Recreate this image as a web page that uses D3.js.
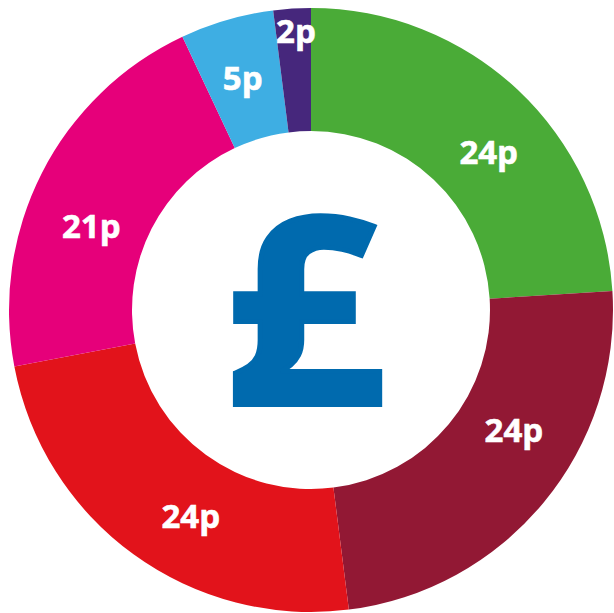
<!DOCTYPE html>
<html>
<head>
<meta charset="utf-8">
<script src="https://cdn.jsdelivr.net/npm/d3@7/dist/d3.min.js"></script>
<style>
  html, body { margin: 0; padding: 0; background: #fff; }
  svg { display: block; }
</style>
</head>
<body>
<svg id="chart" width="614" height="613"></svg>
<script>
// Data
const categories = ["A", "B", "C", "D", "E", "F"];
const values = [24, 24, 24, 21, 5, 2];
const labels = ["24p", "24p", "24p", "21p", "5p", "2p"];
const colors = ["#4aab37", "#921834", "#e2131b", "#e6007a", "#3eaee3", "#46277c"];

// Layout (label nudges, degrees / radius) — presentation only
const labelAngleNudge = [5.1, -8.9, -5.8, -6.2, -0.2, 0.5];
const labelRadius = [238, 236, 239, 235, 242, 279];

const W = 614, H = 613;
const cx = 311, cy = 310;
const rOuter = 302, rInner = 179;

const svg = d3.select("#chart");
const g = svg.append("g").attr("transform", `translate(${cx},${cy})`);

const pie = d3.pie().value(d => d.value).sort(null);
const data = categories.map((c, i) => ({ cat: c, value: values[i], label: labels[i], color: colors[i], i }));
const arcs = pie(data);

const arc = d3.arc().innerRadius(rInner).outerRadius(rOuter);

g.selectAll("path.slice")
  .data(arcs)
  .join("path")
  .attr("class", "slice")
  .attr("d", arc)
  .attr("fill", d => d.data.color);

// Labels
g.selectAll("text.lbl")
  .data(arcs)
  .join("text")
  .attr("class", "lbl")
  .attr("transform", d => {
    const a = (d.startAngle + d.endAngle) / 2 + labelAngleNudge[d.data.i] * Math.PI / 180;
    const r = labelRadius[d.data.i];
    return `translate(${r * Math.sin(a)},${-r * Math.cos(a)})`;
  })
  .attr("text-anchor", "middle")
  .attr("dy", "0.36em")
  .attr("fill", "#fff")
  .attr("stroke", "#fff")
  .attr("stroke-width", 0.6)
  .attr("font-family", "'Open Sans', sans-serif")
  .attr("font-weight", 700)
  .attr("font-size", 33)
  .text(d => d.data.label);

// Pound sign, fitted to target ink box
const sw = 5;
const target = { x0: 233 + sw / 2, x1: 383 - sw / 2, y0: 213 + sw / 2, y1: 407 - sw / 2 };
const fam = "'Open Sans', sans-serif";
const baseSize = 200;
const cvs = document.createElement("canvas");
const ctx = cvs.getContext("2d");
ctx.font = `700 ${baseSize}px ${fam}`;
const m = ctx.measureText("£");
const inkL = -m.actualBoundingBoxLeft, inkR = m.actualBoundingBoxRight;
const inkT = -m.actualBoundingBoxAscent, inkB = m.actualBoundingBoxDescent;
const sx = (target.x1 - target.x0) / (inkR - inkL);
const sy = (target.y1 - target.y0) / (inkB - inkT);
svg.append("text")
  .attr("transform", `translate(${target.x0 - inkL * sx},${target.y0 - inkT * sy}) scale(${sx},${sy})`)
  .attr("font-family", fam)
  .attr("font-weight", 700)
  .attr("font-size", baseSize)
  .attr("fill", "#006aae")
  .attr("stroke", "#006aae")
  .attr("stroke-width", sw / Math.sqrt(sx * sy))
  .attr("stroke-linejoin", "miter")
  .text("£");
</script>
</body>
</html>
